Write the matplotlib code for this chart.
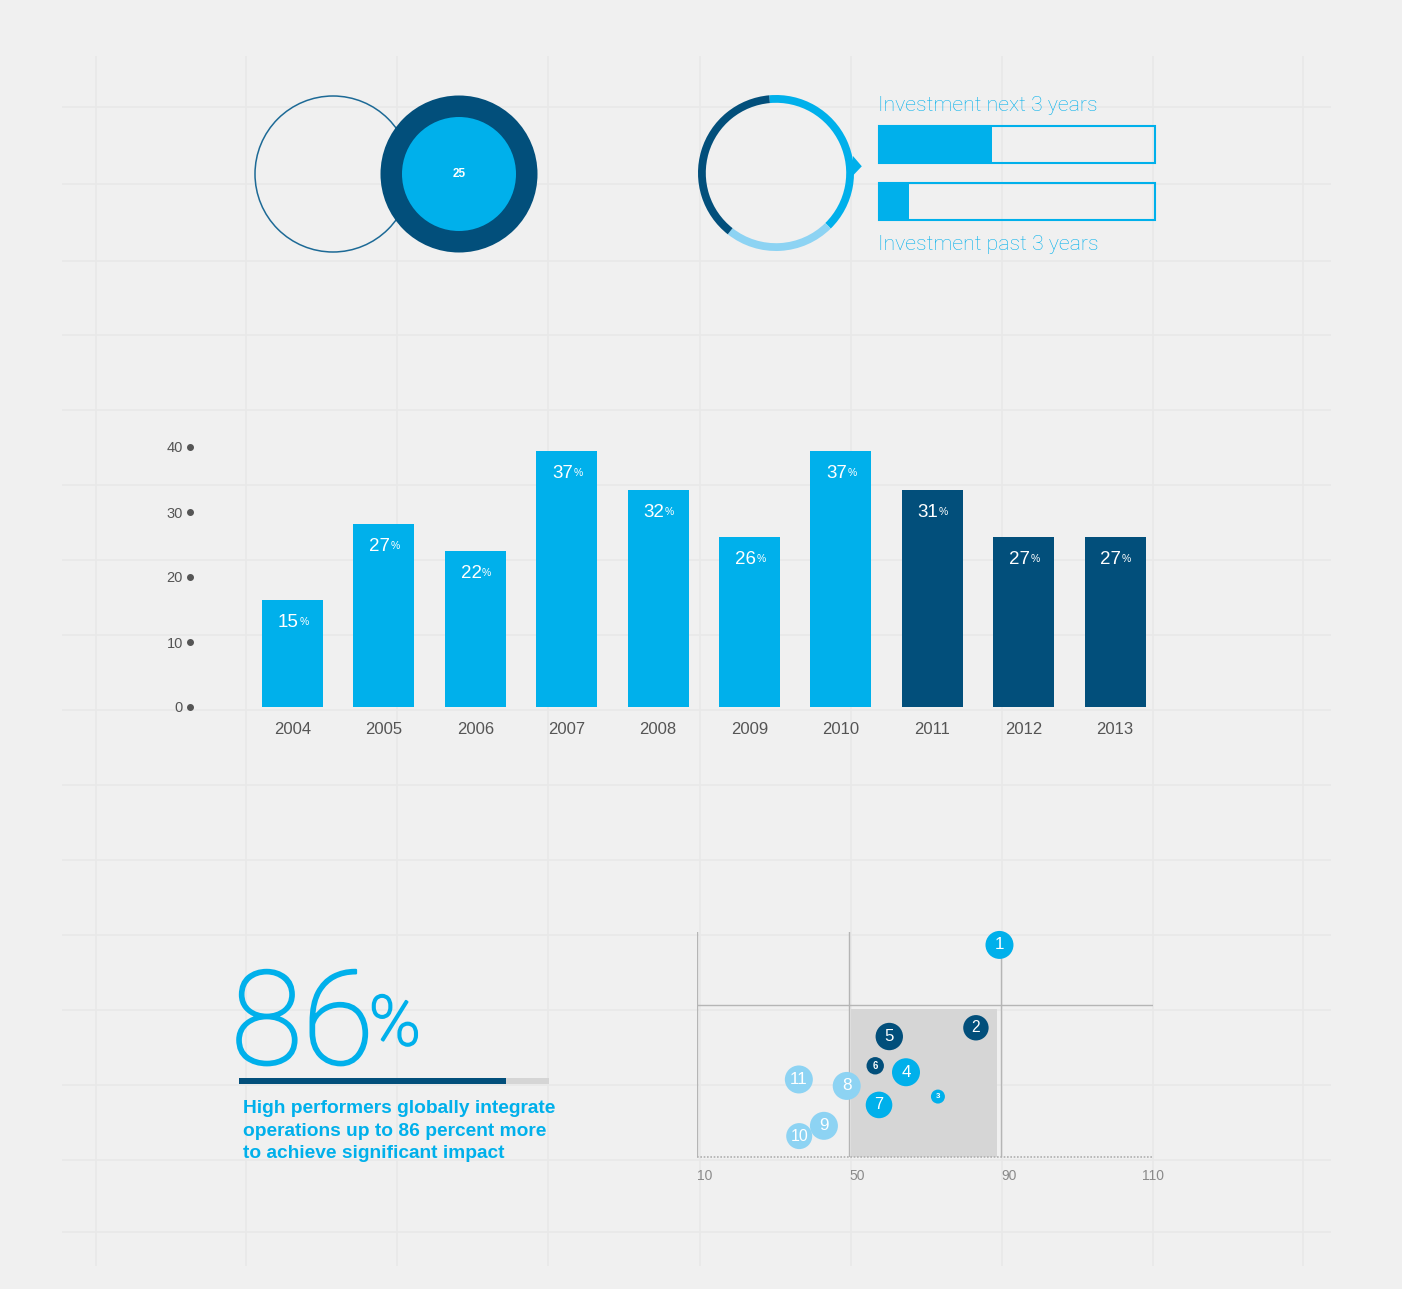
import matplotlib
matplotlib.use("Agg")
import matplotlib.pyplot as plt
import matplotlib.patheffects as pe
import numpy as np
from matplotlib.patches import Circle, Rectangle, Polygon
from matplotlib.transforms import blended_transform_factory

# ---------------- data ----------------
venn_value = 25
donut_values = [39, 23, 38]            # clockwise from top: mid, pale, dark
invest_labels = ["Investment next 3 years", "Investment past 3 years"]
invest_values = [41, 11]               # percent of bar filled

years = ["2004", "2005", "2006", "2007", "2008", "2009", "2010", "2011", "2012", "2013"]
bar_heights = [16.5, 28.2, 24.0, 39.4, 33.4, 26.2, 39.4, 33.4, 26.2, 26.2]
bar_labels = [15, 27, 22, 37, 32, 26, 37, 31, 27, 27]
y_ticks = [0, 10, 20, 30, 40]

headline_value = 86
headline_lines = ["High performers globally integrate",
                  "operations up to 86 percent more",
                  "to achieve significant impact"]

bubble_ids = ["1", "2", "3", "4", "5", "6", "7", "8", "9", "10", "11"]
bubble_x = [89.6, 83.4, 73.4, 65.0, 60.6, 56.9, 57.9, 49.4, 43.4, 36.9, 36.8]
bubble_y = [65.8, 44.0, 25.9, 32.3, 41.7, 34.0, 23.7, 28.7, 18.2, 15.5, 30.4]
bubble_r = [14, 12.7, 7, 14, 13.7, 8.7, 13.3, 14, 14, 13, 14]
bubble_group = ["mid", "dark", "mid", "mid", "dark", "dark", "mid", "pale", "pale", "pale", "pale"]
scatter_ticks = [10, 50, 90, 110]

# ---------------- style ----------------
MID = "#00b0eb"
DARK = "#024f7b"
PALE = "#8dd3f3"
BG = "#f0f0f0"
GRID = "#e8e8e8"
TXT = "#555555"
group_color = {"mid": MID, "dark": DARK, "pale": PALE}
bar_colors = [MID] * 7 + [DARK] * 3
SANS = ["Liberation Sans", "DejaVu Sans"]
LIGHT = ["Roboto", "DejaVu Sans"]

W, H = 1402, 1289
fig = plt.figure(figsize=(W / 100, H / 100), dpi=100, facecolor=BG)


def px_axes(x0, y0, x1, y1, z=1):
    ax = fig.add_axes([x0 / W, 1 - y1 / H, (x1 - x0) / W, (y1 - y0) / H], zorder=z)
    ax.set_facecolor("none")
    return ax


# ---------------- background grid ----------------
bg = px_axes(0, 0, W, H, z=0)
bg.set_xlim(0, W)
bg.set_ylim(H, 0)
bg.axis("off")
vgrid = [96, 246, 397, 548, 700, 851, 1002, 1153, 1303]
hgrid = [107, 184, 261, 335, 410, 485, 560, 635, 710, 785, 860, 935, 1010, 1085, 1160, 1232]
bg.vlines(vgrid, 56, 1266, color=GRID, lw=1.2)
bg.hlines(hgrid, 62, 1331, color=GRID, lw=1.2)

# ---------------- overlapping circles ----------------
av = px_axes(240, 80, 560, 270, z=2)
av.set_xlim(0, 320)
av.set_ylim(190, 0)
av.axis("off")
av.add_patch(Circle((93, 94), 78, fill=False, edgecolor="#1d6a96", lw=1.1))
av.add_patch(Circle((219, 94), 78.5, color=DARK, lw=0))
av.add_patch(Circle((219, 94), 57, color=MID, lw=0))
av.text(219, 94, str(venn_value), color="white", fontsize=8.5, fontweight="bold",
        ha="center", va="center", family=SANS)

# ---------------- donut ----------------
ad = px_axes(776 - 78, 173 - 78, 776 + 78, 173 + 78, z=2)
ad.pie(donut_values, colors=[MID, PALE, DARK], startangle=95, counterclock=False,
       radius=1.0, wedgeprops=dict(width=0.1, edgecolor="none"))
ad.set_xlim(-1, 1)
ad.set_ylim(-1, 1)
ad.set_aspect("equal")
ad.add_patch(Polygon([(0.985, 0.22), (0.985, -0.035), (1.10, 0.086)], closed=True,
                     color=MID, lw=0, clip_on=False))

# ---------------- investment bars ----------------
ai = px_axes(879, 126, 1155, 220, z=2)
ypos = np.arange(len(invest_values))
ai.barh(ypos, [100] * len(ypos), height=0.65, fill=False, edgecolor=MID, lw=1.5, clip_on=False)
ai.barh(ypos, invest_values, height=0.65, color=MID, lw=0)
ai.set_xlim(0, 100)
ai.set_ylim(1.325, -0.325)
ai.axis("off")
bg.text(878, 111, invest_labels[0], color=MID, fontsize=15.3, family=LIGHT,
        fontweight="light", va="baseline", ha="left")
bg.text(878, 250, invest_labels[1], color=MID, fontsize=15.3, family=LIGHT,
        fontweight="light", va="baseline", ha="left")

# ---------------- bar chart ----------------
ab = px_axes(201.1, 707 - 42 * 6.5, 1160.8, 707, z=2)
x = np.arange(len(years))
ab.bar(x, bar_heights, width=0.667, color=bar_colors, lw=0)
ab.set_xlim(-1.0, 9.5)
ab.set_ylim(0, 42)
for s in ab.spines.values():
    s.set_visible(False)
ab.set_xticks(x)
ab.set_xticklabels(years, family=SANS, fontsize=12, color=TXT)
ab.set_yticks(y_ticks)
ab.set_yticklabels([str(t) for t in y_ticks], family=SANS, fontsize=10.5, color=TXT)
ab.tick_params(axis="x", length=0, pad=10.5)
ab.tick_params(axis="y", length=0, pad=13)
trans = blended_transform_factory(ab.transAxes, ab.transData)
ab.plot([-0.0116] * len(y_ticks), y_ticks, "o", color=TXT, ms=4, transform=trans, clip_on=False)
for xi, h, lab in zip(x, bar_heights, bar_labels):
    ab.annotate(str(lab), xy=(xi, h), xytext=(4.5, -16.3), textcoords="offset points",
                ha="right", va="center", color="white", fontsize=13.5, family=SANS)
    ab.annotate("%", xy=(xi, h), xytext=(4.8, -16.0), textcoords="offset points",
                ha="left", va="center", color="white", fontsize=7.5, family=SANS)

# ---------------- 86% headline ----------------
thick = [pe.withStroke(linewidth=1.6, foreground=MID)]
bg.text(231, 1064, str(headline_value), color=MID, fontsize=94, family=LIGHT,
        fontweight="light", va="baseline", ha="left", path_effects=thick)
bg.text(369, 1045, "%", color=MID, fontsize=50, family=LIGHT,
        fontweight="light", va="baseline", ha="left", path_effects=thick)
ap = px_axes(239, 1078, 549, 1084, z=2)
ap.barh([0], [100], height=1, color="#d5d5d5", lw=0)
ap.barh([0], [headline_value], height=1, color=DARK, lw=0)
ap.set_xlim(0, 100)
ap.set_ylim(-0.5, 0.5)
ap.axis("off")
for i, line in enumerate(headline_lines):
    bg.text(243, 1113 + i * 22.5, line, color=MID, fontsize=13.8, family=SANS,
            fontweight="bold", va="baseline", ha="left")

# ---------------- bubble scatter ----------------
def fwd(v):
    return np.interp(v, [10, 50, 90, 110], [0, 1, 2, 3])


def inv(p):
    return np.interp(p, [0, 1, 2, 3], [10, 50, 90, 110])


asx = px_axes(697, 932, 1153, 1157, z=2)
asx.set_xscale("function", functions=(fwd, inv))
asx.set_xlim(10, 110)
asx.set_ylim(10, 69.2)
for s in asx.spines.values():
    s.set_visible(False)
asx.add_patch(Rectangle((50.5, 10), 88.95 - 50.5, 48.95 - 10, color="#d6d6d6", lw=0, zorder=1))
asx.axvline(10, color="#b5b5b5", lw=1, zorder=2)
asx.axvline(50, color="#b5b5b5", lw=1, zorder=2)
asx.plot([90, 90], [10, bubble_y[0]], color="#b5b5b5", lw=1, zorder=2)
asx.axhline(50, color="#b5b5b5", lw=1, zorder=2)
asx.axhline(10, color="#b0b0b0", lw=1.2, ls=(0, (1, 1)), zorder=2, clip_on=False)
sizes = [(2 * r * 0.72) ** 2 for r in bubble_r]
cols = [group_color[g] for g in bubble_group]
asx.scatter(bubble_x, bubble_y, s=sizes, c=cols, lw=0, zorder=3, clip_on=False)
for bx, by, r, lab in zip(bubble_x, bubble_y, bubble_r, bubble_ids):
    fs = r * 0.88 if r >= 10 else r * 0.8
    asx.text(bx, by, lab, color="white", fontsize=fs, family=SANS, ha="center", va="center",
             fontweight="bold" if r < 10 else "normal", zorder=4)
asx.set_xticks(scatter_ticks)
asx.set_xticklabels([str(t) for t in scatter_ticks], family=SANS, fontsize=10, color="#8a8a8a")
asx.set_yticks([])
asx.tick_params(axis="x", length=0, pad=9)
labs = asx.get_xticklabels()
for lab in labs[:-1]:
    lab.set_ha("left")
labs[-1].set_ha("center")

fig.savefig("out.png", dpi=100, facecolor=BG)
